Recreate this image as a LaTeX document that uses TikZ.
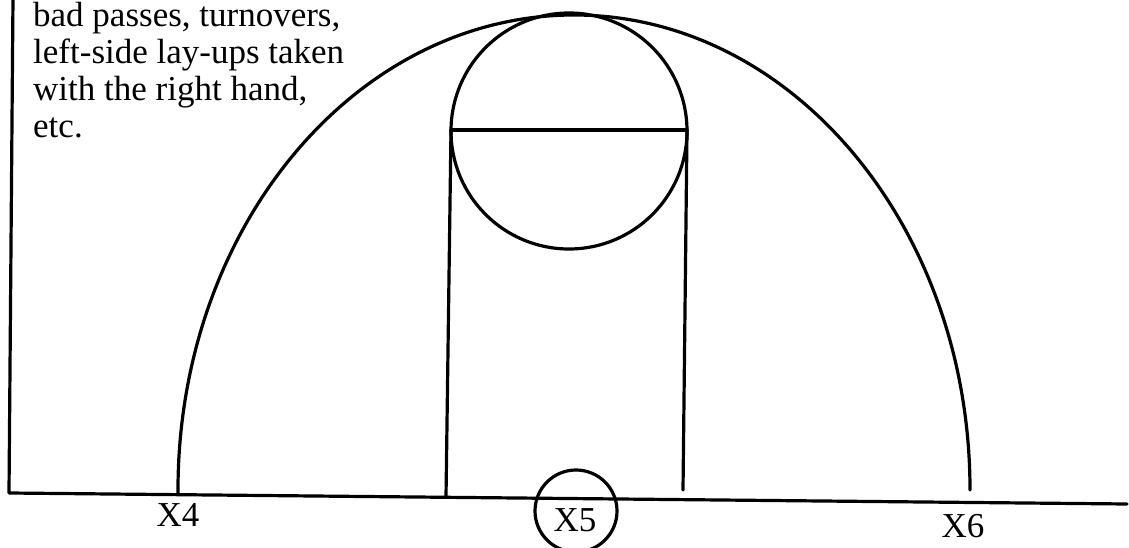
\documentclass[tikz,border=0pt]{standalone}
\usepackage{fontspec}
\setmainfont{Liberation Serif}
\begin{document}
\begin{tikzpicture}[x=1pt,y=1pt,
  court/.style={line width=3.2pt,line cap=round,line join=round},
  lbl/.style={font=\fontsize{35}{36}\selectfont,inner sep=0pt},
  noteline/.style={lbl,anchor=base west}]
\useasboundingbox (0,0) rectangle (1129,547);
% coordinates
\coordinate (lt) at (13,549);
\coordinate (lb) at (9,54);
\coordinate (re) at (1127,43);
% left border and base line
\draw[court] (lt) -- (lb) -- (re);
% big three-point arc
\draw[court] (178,53) -- (178,57) arc[start angle=180,end angle=0,x radius=396,y radius=475];
% free-throw circle and line
\coordinate (cc) at (569,416);
\draw[court] (cc) circle[radius=118];
\coordinate (fl) at (451,417);
\coordinate (fr) at (687,417);
\draw[court] (fl) -- (fr);
% lane lines
\coordinate (ll) at (446,50);
\coordinate (rl) at (683,57);
\draw[court] (fl) -- (ll);
\draw[court] (fr) -- (rl);
% X5 circle
\draw[court] (576,36) circle[radius=41];
% labels
\node[lbl] (x4) at (178,32) {X4};
\node[lbl] (x5) at (575,27) {X5};
\node[lbl] (x6) at (963,21) {X6};
\node[noteline] (n1) at (33,520) {bad passes, turnovers,};
\node[noteline] (n2) at (33,483) {left-side lay-ups taken};
\node[noteline] (n3) at (33,446) {with the right hand,};
\node[noteline] (n4) at (33,409) {etc.};
\end{tikzpicture}
\end{document}
